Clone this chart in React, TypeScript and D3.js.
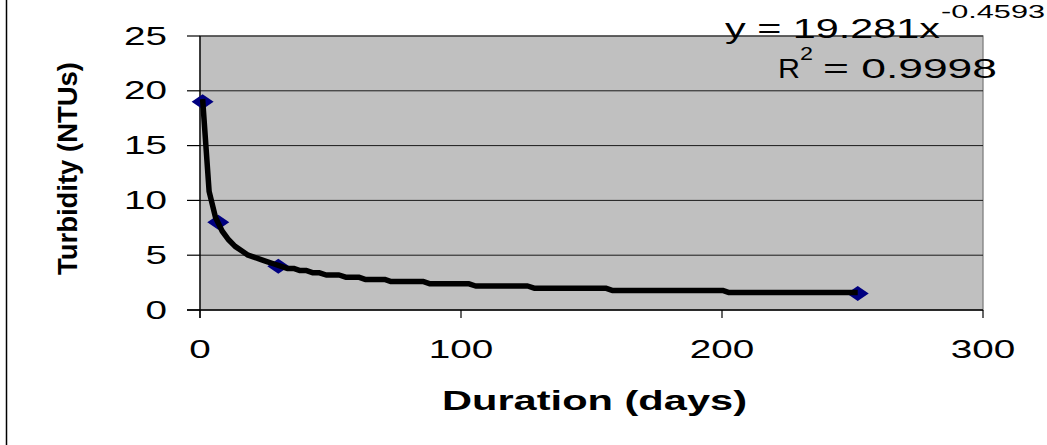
import React from "react";
import * as d3 from "d3";

// Measured turbidity over time
const durationDays = [1, 7, 30, 252];
const turbidityNTU = [19, 8, 4, 1.5];

// Power trendline fit: y = a * x^b
const trendA = 19.281;
const trendB = -0.4593;
const rSquared = 0.9998;

const xTicks = [0, 100, 200, 300];
const yTicks = [0, 5, 10, 15, 20, 25];

const W = 1047;
const H = 445;
const plot = { left: 200, right: 983, top: 36, bottom: 310 };
const FONT = "'Liberation Sans', Arial, sans-serif";

export default function App() {
  const x = d3.scaleLinear().domain([0, 300]).range([plot.left, plot.right]);
  const y = d3.scaleLinear().domain([0, 25]).range([plot.bottom, plot.top]);

  const xMin = d3.min(durationDays) as number;
  const xMax = d3.max(durationDays) as number;

  // trendline rendered as a coarse device polyline (fixed pixel step, snapped rows)
  const pxStep = 6.5;
  const rowStep = 2.2;
  const pxStart = x(xMin);
  const pxEnd = x(xMax);
  const pxSamples = d3.range(pxStart, pxEnd, pxStep).concat([pxEnd]);
  const trendPts: [number, number][] = pxSamples.map((px) => {
    const day = x.invert(px);
    const py = y(trendA * Math.pow(day, trendB));
    return [px, Math.round(py / rowStep) * rowStep];
  });
  const trendPath = d3.line().curve(d3.curveLinear)(trendPts) || "";

  const diamond = (cx: number, cy: number) =>
    `M${cx - 11},${cy}L${cx},${cy - 7.5}L${cx + 11},${cy}L${cx},${cy + 7.5}Z`;

  const digitW = 21.5;

  return (
    <svg
      width={W}
      height={H}
      style={{ position: "absolute", left: 0, top: 0, display: "block", background: "#fff" }}
      fontFamily={FONT}
    >
      <rect x={0} y={0} width={W} height={H} fill="#fff" />
      {/* outer chart frame edge */}
      <line x1={6.5} y1={0} x2={6.5} y2={H} stroke="#000" strokeWidth={1.5} />

      {/* plot area */}
      <rect
        x={plot.left}
        y={plot.top}
        width={plot.right - plot.left}
        height={plot.bottom - plot.top}
        fill="#c0c0c0"
        stroke="#808080"
        strokeWidth={1.3}
      />

      {/* horizontal gridlines */}
      {yTicks
        .filter((v) => v > 0)
        .map((v) => (
          <line
            key={`g${v}`}
            x1={plot.left}
            x2={plot.right}
            y1={y(v)}
            y2={y(v)}
            stroke="#1a1a1a"
            strokeWidth={1}
          />
        ))}

      {/* axes */}
      <line x1={plot.left} x2={plot.left} y1={plot.top} y2={plot.bottom + 8} stroke="#000" strokeWidth={1.3} />
      <line x1={plot.left - 13} x2={plot.right} y1={plot.bottom} y2={plot.bottom} stroke="#000" strokeWidth={1.3} />

      {yTicks.map((v) => (
        <g key={`yt${v}`}>
          <line x1={plot.left - 13} x2={plot.left} y1={y(v)} y2={y(v)} stroke="#000" strokeWidth={1.2} />
          <text
            x={167}
            y={y(v) + 8.5}
            textAnchor="end"
            fontSize={25}
            textLength={String(v).length * digitW}
            lengthAdjust="spacingAndGlyphs"
            fill="#000"
          >
            {v}
          </text>
        </g>
      ))}

      {xTicks.map((v) => (
        <g key={`xt${v}`}>
          <line x1={x(v)} x2={x(v)} y1={plot.bottom} y2={plot.bottom + 8} stroke="#000" strokeWidth={1.2} />
          <text
            x={x(v)}
            y={358}
            textAnchor="middle"
            fontSize={25}
            textLength={String(v).length * digitW}
            lengthAdjust="spacingAndGlyphs"
            fill="#000"
          >
            {v}
          </text>
        </g>
      ))}

      {/* data markers */}
      {durationDays.map((d, i) => (
        <path key={`m${i}`} d={diamond(x(d), y(turbidityNTU[i]))} fill="#000080" />
      ))}

      {/* power trendline */}
      <path d={trendPath} fill="none" stroke="#000" strokeWidth={5.5} strokeLinejoin="round" strokeLinecap="butt" />

      {/* trendline equation */}
      <text x={725} y={38} fontSize={28} textLength={215} lengthAdjust="spacingAndGlyphs" fill="#000">
        {`y = ${trendA}x`}
      </text>
      <text x={941} y={18} fontSize={19} textLength={104} lengthAdjust="spacingAndGlyphs" fill="#000">
        {`${trendB}`}
      </text>
      <text x={778} y={78} fontSize={28} textLength={22} lengthAdjust="spacingAndGlyphs" fill="#000">
        R
      </text>
      <text x={800} y={60} fontSize={19} textLength={13} lengthAdjust="spacingAndGlyphs" fill="#000">
        2
      </text>
      <text x={823} y={78} fontSize={28} textLength={174} lengthAdjust="spacingAndGlyphs" fill="#000">
        {`= ${rSquared}`}
      </text>

      {/* axis titles */}
      <text
        x={442}
        y={410}
        fontSize={28}
        fontWeight="bold"
        textLength={305}
        lengthAdjust="spacingAndGlyphs"
        fill="#000"
      >
        Duration (days)
      </text>
      <text
        transform={`translate(77,168.5) rotate(-90)`}
        textAnchor="middle"
        fontSize={28}
        fontWeight="bold"
        textLength={213}
        lengthAdjust="spacingAndGlyphs"
        fill="#000"
      >
        Turbidity (NTUs)
      </text>
    </svg>
  );
}
